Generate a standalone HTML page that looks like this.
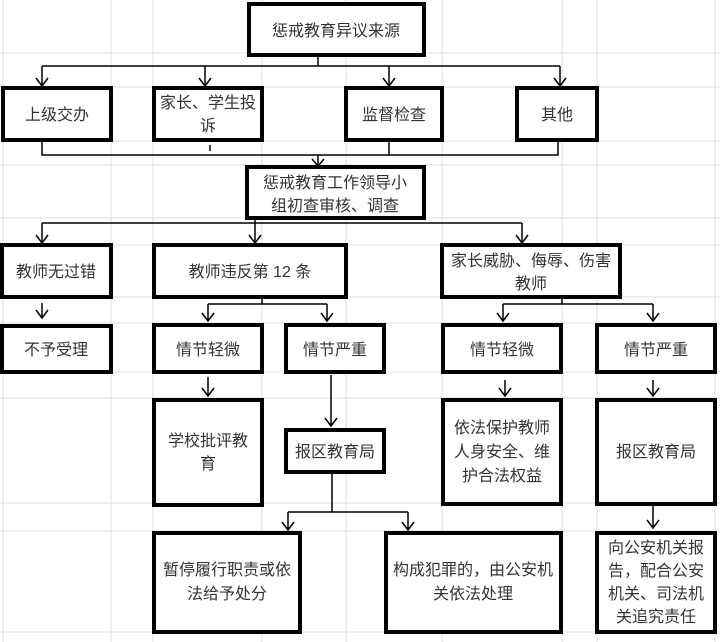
<!DOCTYPE html>
<html><head><meta charset="utf-8"><style>
html,body{margin:0;padding:0;background:#fff;}
svg{display:block;}
text{font-family:"Liberation Sans","Noto Sans CJK SC",sans-serif;font-size:16px;fill:#333;text-anchor:middle;}
</style></head><body>
<svg width="720" height="642" viewBox="0 0 720 642" xmlns="http://www.w3.org/2000/svg">
<g stroke="#dcdcdc" stroke-width="1">
<line x1="0" y1="53" x2="720" y2="53"/><line x1="0" y1="87" x2="720" y2="87"/>
<line x1="0" y1="141" x2="720" y2="141"/><line x1="0" y1="165" x2="720" y2="165"/>
<line x1="0" y1="218" x2="720" y2="218"/><line x1="0" y1="245" x2="720" y2="245"/>
<line x1="0" y1="297" x2="720" y2="297"/><line x1="0" y1="323" x2="720" y2="323"/>
<line x1="0" y1="372" x2="720" y2="372"/><line x1="0" y1="398" x2="720" y2="398"/>
<line x1="0" y1="503" x2="720" y2="503"/><line x1="0" y1="531" x2="720" y2="531"/>
<line x1="0" y1="632" x2="720" y2="632"/>
<line x1="3" y1="0" x2="3" y2="642"/><line x1="111" y1="0" x2="111" y2="642"/>
<line x1="153" y1="0" x2="153" y2="642"/><line x1="262" y1="0" x2="262" y2="642"/>
<line x1="346" y1="0" x2="346" y2="642"/><line x1="442" y1="0" x2="442" y2="642"/>
<line x1="562" y1="0" x2="562" y2="642"/><line x1="597" y1="0" x2="597" y2="642"/>
<line x1="715" y1="0" x2="715" y2="642"/>
</g>
<g fill="none" stroke="#000" stroke-width="1.5">
<path d="M318 55V66M42 66H560M42 66V86M205 66V86M389 66V86M560 66V86"/>
<path d="M42 140V155H558V140M389 140V155M210 145V151M318 155V166"/>
<path d="M255 218V243M42 223H522M42 223V243M522 223V243"/>
<path d="M262 297V304M208 304H327M208 304V321M327 304V321"/>
<path d="M562 297V304M503 304H653M503 304V321M653 304V321"/>
<path d="M42 303V318M208 377V396M331 375V426M505 380V396M653 380V396"/>
<path d="M332 472V512M288 512H408M288 512V530M408 512V530M653 505V528"/>
</g>
<g fill="none" stroke="#000" stroke-width="1.5">
<path d="M36 78L42 86L48 78M199 78L205 86L211 78M383 78L389 86L395 78M554 78L560 86L566 78"/>
<path d="M312 159L318 166L324 159"/>
<path d="M36 235L42 243L48 235M249 235L255 243L261 235M516 235L522 243L528 235"/>
<path d="M202 313L208 321L214 313M321 313L327 321L333 313M497 313L503 321L509 313M647 313L653 321L659 313"/>
<path d="M36 310L42 318L48 310M202 388L208 396L214 388M325 418L331 426L337 418M499 388L505 396L511 388M647 388L653 396L659 388"/>
<path d="M282 522L288 530L294 522M402 522L408 530L414 522M647 520L653 528L659 520"/>
</g>
<g fill="#fff" stroke="#000" stroke-width="4">
<rect x="249" y="4" width="175" height="51"/>
<rect x="3" y="88" width="108" height="52"/>
<rect x="154" y="88" width="108" height="52"/>
<rect x="346" y="88" width="96" height="52"/>
<rect x="517" y="88" width="80" height="52"/>
<rect x="247" y="167" width="177" height="51"/>
<rect x="2" y="245" width="109" height="52"/>
<rect x="154" y="245" width="192" height="52"/>
<rect x="442" y="245" width="178" height="52"/>
<rect x="2" y="326" width="109" height="46"/>
<rect x="154" y="325" width="108" height="47"/>
<rect x="286" y="325" width="98" height="47"/>
<rect x="443" y="325" width="118" height="47"/>
<rect x="597" y="325" width="118" height="47"/>
<rect x="154" y="400" width="108" height="105"/>
<rect x="286" y="430" width="98" height="42"/>
<rect x="443" y="400" width="118" height="104"/>
<rect x="597" y="400" width="118" height="104"/>
<rect x="154" y="533" width="146" height="99"/>
<rect x="386" y="533" width="175" height="99"/>
<rect x="597" y="533" width="118" height="99"/>
</g>
<text x="336" y="36">惩戒教育异议来源</text>
<text x="57" y="120">上级交办</text>
<text x="208" y="108">家长、学生投</text><text x="208" y="131">诉</text>
<text x="394" y="120">监督检查</text>
<text x="557" y="120">其他</text>
<text x="335" y="188">惩戒教育工作领导小</text><text x="335" y="211">组初查审核、调查</text>
<text x="56" y="277">教师无过错</text>
<text x="250" y="277">教师违反第 12 条</text>
<text x="531" y="266">家长威胁、侮辱、伤害</text><text x="531" y="289">教师</text>
<text x="56" y="355">不予受理</text>
<text x="208" y="355">情节轻微</text>
<text x="335" y="355">情节严重</text>
<text x="502" y="355">情节轻微</text>
<text x="656" y="355">情节严重</text>
<text x="208" y="446">学校批评教</text><text x="208" y="469">育</text>
<text x="335" y="457">报区教育局</text>
<text x="502" y="433">依法保护教师</text><text x="502" y="457">人身安全、维</text><text x="502" y="481">护合法权益</text>
<text x="656" y="457">报区教育局</text>
<text x="227" y="575">暂停履行职责或依</text><text x="227" y="599">法给予处分</text>
<text x="473" y="575">构成犯罪的，由公安机</text><text x="473" y="599">关依法处理</text>
<text x="656" y="553">向公安机关报</text><text x="656" y="576">告，配合公安</text><text x="656" y="599">机关、司法机</text><text x="656" y="622">关追究责任</text>
</svg>
</body></html>
